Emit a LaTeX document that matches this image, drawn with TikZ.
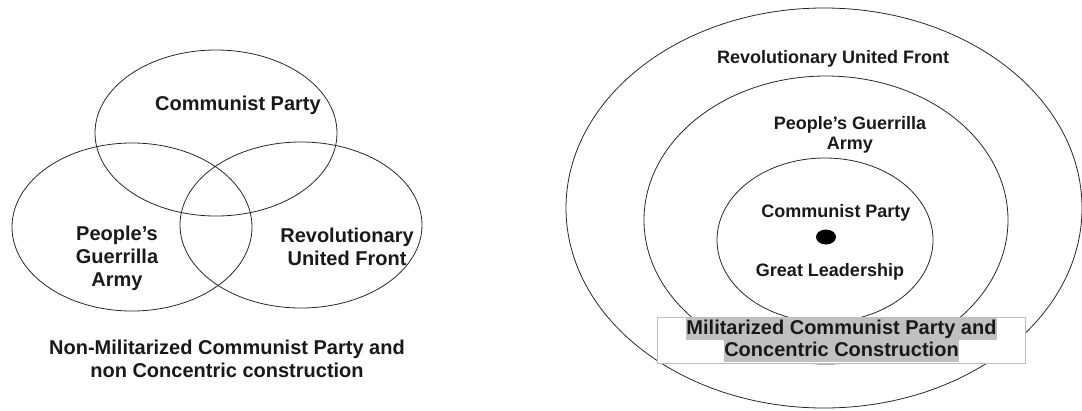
\documentclass[tikz,border=0pt]{standalone}
\usepackage{fontspec}
\setmainfont{Liberation Sans}
\usetikzlibrary{shapes.geometric}

\definecolor{ring-line}{RGB}{40, 40, 40}
\definecolor{label-text}{RGB}{25, 25, 25}
\definecolor{mark-gray}{RGB}{192, 192, 192}
\definecolor{box-line}{RGB}{190, 190, 190}

\begin{document}
\begin{tikzpicture}[
        x=1pt, y=-1pt,
        ring/.style={shape=ellipse, draw=ring-line, line width=0.8pt, inner sep=0pt},
        label/.style={align=center, text=label-text, font=\fontsize{20}{23}\selectfont\bfseries},
        small label/.style={align=center, text=label-text, font=\fontsize{18}{20}\selectfont\bfseries},
        marked/.style={label, fill=mark-gray, inner xsep=0pt, inner ysep=0pt, text height=16pt, text depth=6pt},
    ]
    \useasboundingbox (0,0) rectangle (1082,410);

    % non-concentric construction
    \node[ring, minimum width=242pt, minimum height=166pt] (cp-set) at (216,133) {};
    \node[ring, minimum width=240pt, minimum height=168pt] (pga-set) at (132,227) {};
    \node[ring, minimum width=242pt, minimum height=166pt] (ruf-set) at (301,225) {};

    \node[label] (cp-name) at (238,105) {Communist Party};
    \node[label] (pga-name) at (117,258) {People's\\Guerrilla\\Army};
    \node[label] (ruf-name) at (347,247) {Revolutionary\\United Front};
    \node[label] (left-caption) at (227,359) {Non-Militarized Communist Party and\\non Concentric construction};

    % concentric construction
    \node[ring, minimum width=516pt, minimum height=400pt] (ruf-ring) at (824,208) {};
    \node[ring, minimum width=364pt, minimum height=288pt] (pga-ring) at (826,220) {};
    \node[ring, minimum width=216pt, minimum height=164pt] (cp-ring) at (825,240) {};
    \node[shape=ellipse, fill=black, minimum width=20pt, minimum height=15pt, inner sep=0pt] (leader-dot) at (826,237) {};

    \node[small label] (ruf-title) at (833,59) {Revolutionary United Front};
    \node[small label] (pga-title) at (850,135) {People's Guerrilla\\Army};
    \node[small label] (cp-title) at (836,213) {Communist Party};
    \node[small label] (leader-title) at (830,272) {Great Leadership};

    \node[draw=box-line, fill=white, line width=0.6pt, minimum width=368pt, minimum height=46pt, inner sep=0pt] (caption-box) at (841,340) {};
    \node[marked] (caption-one) at (841.5,329) {Militarized Communist Party and};
    \node[marked] (caption-two) at (841.5,351) {Concentric Construction};
\end{tikzpicture}
\end{document}
